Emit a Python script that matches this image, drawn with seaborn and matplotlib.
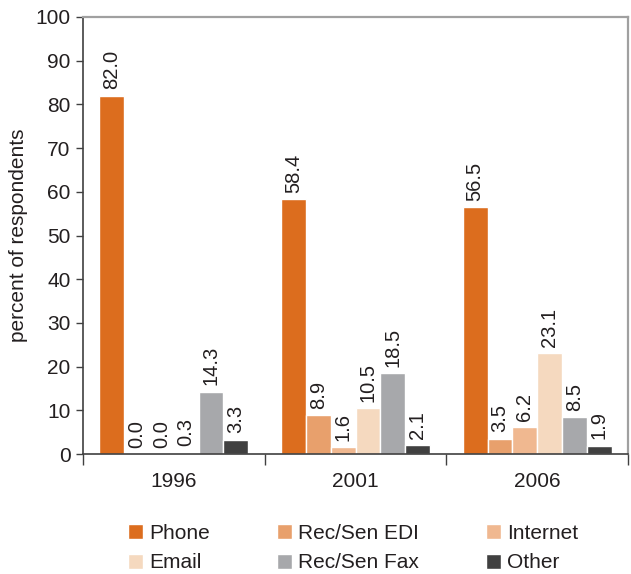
import pandas as pd
import matplotlib
matplotlib.use('Agg')
import matplotlib.pyplot as plt
import seaborn as sns

# Data
years = ['1996', '2001', '2006']
methods = ['Phone', 'Rec/Sen EDI', 'Internet', 'Email', 'Rec/Sen Fax', 'Other']
phone = [82.0, 58.4, 56.5]
rec_sen_edi = [0.0, 8.9, 3.5]
internet = [0.0, 1.6, 6.2]
email = [0.3, 10.5, 23.1]
rec_sen_fax = [14.3, 18.5, 8.5]
other = [3.3, 2.1, 1.9]

colors = ['#DC6D1E', '#E8A06C', '#F0B890', '#F5D9BF', '#A7A8AB', '#404040']

series = [phone, rec_sen_edi, internet, email, rec_sen_fax, other]
rows = []
for m, vals in zip(methods, series):
    for y, v in zip(years, vals):
        rows.append({'year': y, 'method': m, 'value': v})
df = pd.DataFrame(rows)

sns.set_style('white')
plt.rcParams['font.family'] = ['Liberation Sans', 'DejaVu Sans']
text_color = '#231F20'
fs = 15

fig = plt.figure(figsize=(6.31, 5.74), dpi=100)
ax = fig.add_axes([83 / 631, 1 - 454 / 574, 545 / 631, 437 / 574])

sns.barplot(data=df, x='year', y='value', hue='method', order=years,
            hue_order=methods, palette=colors, saturation=1, width=0.82,
            gap=0, errorbar=None, ax=ax, legend=True)

# value labels above bars
for cont in ax.containers:
    ax.bar_label(cont, fmt='%.1f', rotation=90, padding=4.5,
                 fontsize=14.5, color=text_color)

ax.set_ylim(0, 100)
ax.set_xlim(-0.5, 2.5)
ax.set_yticks(range(0, 101, 10))
ax.set_xlabel('')
ax.set_ylabel('percent of respondents', fontsize=fs, color=text_color)
ax.yaxis.set_label_coords(-0.101, 0.5)

ax.tick_params(axis='y', length=5, width=1, color='#404040', pad=4,
               labelsize=fs, labelcolor=text_color, left=True)
ax.tick_params(axis='x', which='major', length=0, pad=13,
               labelsize=fs, labelcolor=text_color)
ax.set_xticks([-0.5, 0.5, 1.5, 2.5], minor=True)
ax.tick_params(axis='x', which='minor', length=8, width=1, color='#404040',
               bottom=True)

for s in ['left', 'bottom']:
    ax.spines[s].set_color('#404040')
    ax.spines[s].set_linewidth(1.2)
for s in ['top', 'right']:
    ax.spines[s].set_color('#A0A0A0')
    ax.spines[s].set_linewidth(1.6)

# legend below, filled row by row
handles, labels = ax.get_legend_handles_labels()
ax.get_legend().remove()
order = [0, 3, 1, 4, 2, 5]
fig.legend([handles[i] for i in order], [labels[i] for i in order],
           loc='upper center', bbox_to_anchor=(353 / 631, 1 - 524 / 574),
           ncol=3, frameon=False, fontsize=fs, labelcolor=text_color,
           handlelength=0.72, handleheight=0.72, handletextpad=0.3,
           columnspacing=3.2, labelspacing=0.5, borderpad=0, borderaxespad=0)

fig.savefig('out.png', dpi=100)
